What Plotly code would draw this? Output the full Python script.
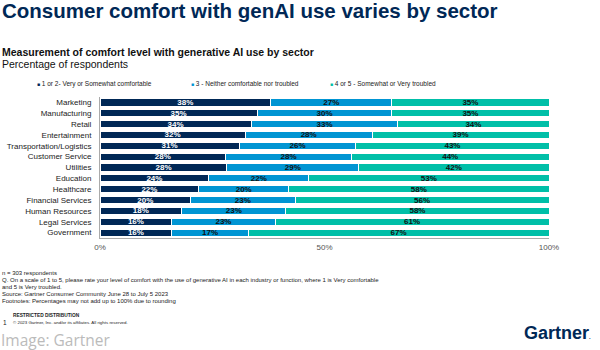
import plotly.graph_objects as go

sectors = ["Marketing", "Manufacturing", "Retail", "Entertainment", "Transportation/Logistics",
           "Customer Service", "Utilities", "Education", "Healthcare", "Financial Services",
           "Human Resources", "Legal Services", "Government"]
comfortable = [38, 35, 34, 32, 31, 28, 28, 24, 22, 20, 18, 16, 16]
neutral = [27, 30, 33, 28, 26, 28, 29, 22, 20, 23, 23, 23, 17]
troubled = [35, 35, 34, 39, 43, 44, 42, 53, 58, 56, 58, 61, 67]
series_names = ["1 or 2- Very or Somewhat comfortable",
                "3 - Neither comfortable nor troubled",
                "4 or 5 - Somewhat or Very troubled"]
colors = ["#002856", "#0095D3", "#00BFA8"]
text_colors = ["#FFFFFF", "#111111", "#111111"]
x_tickvals = [0, 50, 100]
x_ticktext = ["0%", "50%", "100%"]

W, H = 600, 350
L, R, T, B = 100, 51, 97, 112
PW, PH = W - L - R, H - T - B
FONT = "Arial, Liberation Sans, sans-serif"


def px(x):
    return (x - L) / PW


def py(y):
    return (H - B - y) / PH


fig = go.Figure()
for vals, name, col, tcol in zip([comfortable, neutral, troubled], series_names, colors, text_colors):
    fig.add_trace(go.Bar(
        y=sectors, x=vals, name=name, orientation="h",
        marker=dict(color=col, line=dict(color="white", width=1)),
        text=[f"{v}%" for v in vals], textposition="inside", insidetextanchor="middle",
        textfont=dict(family=FONT, size=8, color=tcol, weight="bold"),
        constraintext="none", showlegend=False, hoverinfo="skip",
    ))

ann = []


def add_text(x, y, text, size, color="#111", bold=False, family=FONT, anchor="left"):
    ann.append(dict(x=px(x), y=py(y), xref="paper", yref="paper", text=text, showarrow=False,
                    xanchor=anchor, yanchor="middle", align="left", borderpad=0,
                    font=dict(family=family, size=size, color=color, weight="bold" if bold else "normal")))


add_text(1, 10.5, "Consumer comfort with genAI use varies by sector", 20.5, "#002856", True)
add_text(1, 52, "Measurement of comfort level with generative AI use by sector", 10.5, "#111", True)
add_text(1, 63.5, "Percentage of respondents", 10.5, "#111")

# legend row
leg_x = [36, 190, 329]
for lx, name, col in zip(leg_x, series_names, colors):
    add_text(lx, 83.5, f"<span style='color:{col};font-size:5px'>■</span> {name}", 6.5, "#222")

notes = [
    (272.5, "n = 303 respondents"),
    (279.5, "Q. On a scale of 1 to 5, please rate your level of comfort with the use of generative AI in each industry or function, where 1 is Very comfortable"),
    (286.5, "and 5 is Very troubled."),
    (293.5, "Source: Gartner Consumer Community June 28 to July 5 2023"),
    (300.5, "Footnotes: Percentages may not add up to 100% due to rounding"),
]
for yy, t in notes:
    add_text(1, yy, t, 6, "#222")
add_text(12, 315.5, "RESTRICTED DISTRIBUTION", 4.8, "#222", True)
add_text(2, 322.5, "1", 6.5, "#222")
add_text(12, 322.5, "© 2023 Gartner, Inc. and/or its affiliates. All rights reserved.", 4.4, "#222")
add_text(0, 339.5, "Image: Gartner", 15.5, "#BBBBBB", family="Open Sans, Arial, sans-serif")
add_text(592, 333, "Gartner<span style='font-size:6px'>.</span>", 18, "#002856", True, anchor="right")

fig.update_layout(
    width=W, height=H, margin=dict(l=L, r=R, t=T, b=B, pad=0, autoexpand=False),
    barmode="stack", barnorm="percent", bargap=0.34,
    plot_bgcolor="white", paper_bgcolor="white",
    font=dict(family=FONT, size=8, color="#222"),
    annotations=ann,
    xaxis=dict(range=[0, 100], tickvals=x_tickvals, ticktext=x_ticktext, showgrid=False,
               zeroline=False, showline=True, linecolor="#AAAAAA", linewidth=1, automargin=False,
               tickfont=dict(size=8, color="#555"), ticks="", ticklabelstandoff=1, fixedrange=True),
    yaxis=dict(autorange="reversed", showgrid=False, zeroline=False, showline=True, automargin=False,
               linecolor="#AAAAAA", linewidth=1, tickfont=dict(size=8, color="#222"),
               ticks="", ticklabelstandoff=6, fixedrange=True),
)

fig.write_html("out.html")
